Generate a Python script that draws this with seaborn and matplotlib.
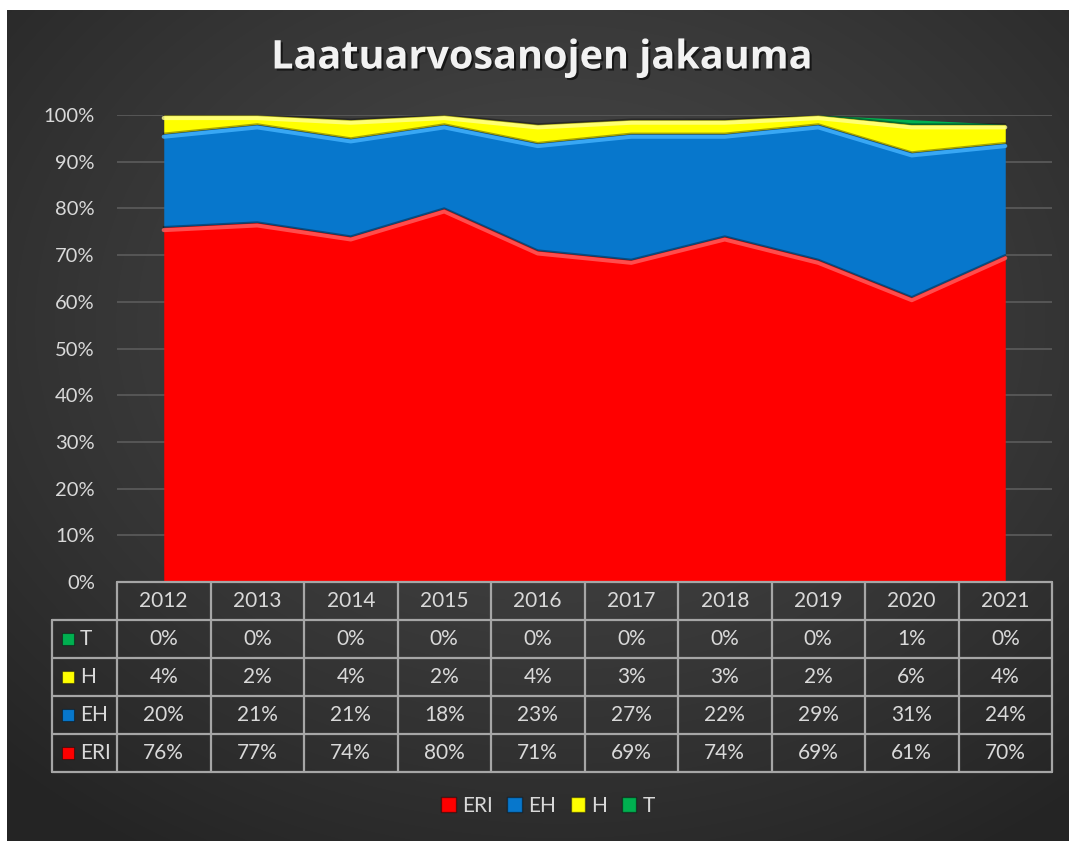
import numpy as np
import matplotlib.pyplot as plt
import matplotlib.patheffects as pe
import matplotlib.transforms as mtransforms
from matplotlib.patches import Rectangle
import seaborn as sns

years = [2012, 2013, 2014, 2015, 2016, 2017, 2018, 2019, 2020, 2021]
eri = [76, 77, 74, 80, 71, 69, 74, 69, 61, 70]
eh = [20, 21, 21, 18, 23, 27, 22, 29, 31, 24]
h = [4, 2, 4, 2, 4, 3, 3, 2, 6, 4]
t = [0, 0, 0, 0, 0, 0, 0, 0, 1, 0]
series = ["ERI", "EH", "H", "T"]
values = {"ERI": eri, "EH": eh, "H": h, "T": t}
table_rows = ["T", "H", "EH", "ERI"]

colors = {"ERI": "#ff0000", "EH": "#0777cc", "H": "#ffff00", "T": "#00b050"}
light = {"ERI": "#ff6060", "EH": "#45b4ff", "H": "#ffff90", "T": "#50e090"}
txt = "#d9d9d9"
gridc = "#595959"
linec = "#a6a6a6"

sns.set_theme(style="dark")
plt.rcParams['font.family'] = ['Lato', 'DejaVu Sans']

W, H = 1069, 841
fig = plt.figure(figsize=(W / 100, H / 100), dpi=100)
fig.patch.set_facecolor("white")

# dark radial background
bg = fig.add_axes([7 / W, 0, 1 - 7 / W, 1 - 10 / H])
yy, xx = np.mgrid[0:400, 0:500]
cx, cy = 260, 150
r = np.sqrt(((xx - cx) / 500) ** 2 + ((yy - cy) / 400) ** 2)
g = 0.28 - 0.25 * np.clip(r / 0.75, 0, 1) ** 1.3 * 0.55
img = np.dstack([g, g, g])
bg.imshow(img, aspect="auto", interpolation="bilinear")
bg.axis("off")

# area chart
ax = fig.add_axes([117 / W, 1 - 582 / H, 935 / W, 467 / H])
ax.patch.set_alpha(0)
x = np.arange(len(years))
ax.stackplot(x, *[values[s] for s in series], colors=[colors[s] for s in series],
             linewidth=0, zorder=2)

base = np.zeros(len(years))
shift = mtransforms.ScaledTranslation(0, -3 / 100, fig.dpi_scale_trans)
for s in series:
    top = base + np.array(values[s])
    if s != "T":
        sns.lineplot(x=x, y=top, ax=ax, color=light[s], linewidth=3, alpha=0.8,
                     transform=ax.transData + shift, zorder=3, legend=False)
        sns.lineplot(x=x, y=top, ax=ax, color="black", linewidth=1.6, alpha=0.35,
                     zorder=4, legend=False)
    base = top

ax.set_xlim(-0.5, 9.5)
ax.set_ylim(0, 100)
ax.set_yticks(range(0, 101, 10))
ax.set_yticklabels([f"{v}%" for v in range(0, 101, 10)], color=txt, fontsize=14.5)
ax.set_xticks([])
ax.tick_params(axis="y", length=0, pad=16)
ax.grid(axis="y", color=gridc, linewidth=1.3, zorder=0)
ax.grid(axis="x", visible=False)
for sp in ax.spines.values():
    sp.set_visible(False)
ax.set_xlabel("")
ax.set_ylabel("")

# data table
tab = fig.add_axes([117 / W, 1 - 772 / H, 935 / W, 190 / H])
tab.patch.set_alpha(0)
tab.set_xlim(-0.5, 9.5)
tab.set_ylim(5, 0)
tab.axis("off")
left = -0.5 - 65 / 93.5
kw = dict(color=linec, linewidth=1.6, clip_on=False)
tab.plot([-0.5, 9.5], [0, 0], **kw)
for i in range(1, 6):
    tab.plot([left, 9.5], [i, i], **kw)
tab.plot([left, left], [1, 5], **kw)
for j in range(11):
    tab.plot([j - 0.5, j - 0.5], [0, 5], **kw)

fs = 15
for j, yr in enumerate(years):
    tab.text(j, 0.5, str(yr), ha="center", va="center", color=txt, fontsize=fs)
for i, s in enumerate(table_rows):
    row = i + 1
    tab.add_patch(Rectangle((left + 0.105, row + 0.34), 0.125, 0.32, facecolor=colors[s],
                            edgecolor="#00000066", linewidth=0.8, clip_on=False))
    tab.text(left + 0.3, row + 0.5, s, ha="left", va="center", color=txt, fontsize=fs)
    for j, v in enumerate(values[s]):
        tab.text(j, row + 0.5, f"{v}%", ha="center", va="center", color=txt, fontsize=fs)

# title
fig.text(542 / W, 1 - 58 / H, "Laatuarvosanojen jakauma", ha="center", va="center",
         color="#f2f2f2", fontsize=28.5, fontweight="bold", family=["Open Sans", "DejaVu Sans"],
         path_effects=[pe.withSimplePatchShadow(offset=(1.5, -1.5), shadow_rgbFace="black", alpha=0.6)])

# legend
handles = [Rectangle((0, 0), 1, 1, facecolor=colors[s], edgecolor="#00000066") for s in series]
fig.legend(handles, series, loc="center", bbox_to_anchor=(548 / W, 1 - 806 / H), ncol=4,
           frameon=False, fontsize=15, labelcolor=txt, handlelength=0.7, handleheight=0.7,
           handletextpad=0.3, columnspacing=0.7)

fig.savefig("out.png", dpi=100, facecolor=fig.get_facecolor())
